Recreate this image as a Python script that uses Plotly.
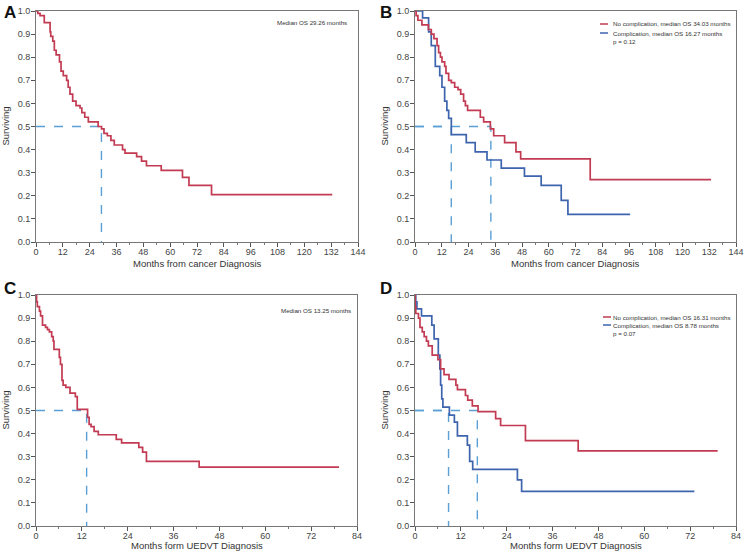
import plotly.graph_objects as go

# ---------------- data ----------------
# Panel A: overall survival from cancer diagnosis
a_t = [0, 0.8, 1.8, 3.7, 6.3, 6.6, 7.5, 8.2, 9.0, 10.5, 11.2, 12.2, 13.7, 14.4, 15.2, 16.4, 17.9, 19.7, 20.5, 21.8, 23.4, 27.8, 29.3, 30.4, 31.9, 33.5, 35.0, 38.7, 39.8, 40.5, 45.0, 47.2, 49.4, 56.0, 65.5, 68.4, 78.5, 132.5]
a_s = [1.0, 0.99, 0.98, 0.95, 0.91, 0.89, 0.87, 0.83, 0.81, 0.78, 0.74, 0.72, 0.70, 0.67, 0.64, 0.61, 0.59, 0.58, 0.56, 0.54, 0.52, 0.50, 0.49, 0.47, 0.46, 0.44, 0.42, 0.40, 0.385, 0.385, 0.37, 0.35, 0.33, 0.31, 0.28, 0.245, 0.205, 0.205]
a_median = 29.26

# Panel B: by complication, from cancer diagnosis
b_no_t = [0, 0.5, 1.3, 3.1, 6.0, 7.3, 8.5, 9.9, 10.6, 11.4, 12.1, 13.3, 13.9, 15.1, 16.3, 17.8, 19.3, 20.5, 21.8, 22.6, 23.6, 29.3, 30.8, 33.8, 35.3, 40.2, 45.3, 47.4, 78.6, 132.8]
b_no_s = [1.0, 0.98, 0.96, 0.94, 0.92, 0.90, 0.88, 0.85, 0.82, 0.80, 0.78, 0.76, 0.73, 0.70, 0.69, 0.67, 0.66, 0.64, 0.61, 0.59, 0.57, 0.54, 0.52, 0.49, 0.46, 0.43, 0.39, 0.36, 0.27, 0.27]
b_co_t = [0, 3.4, 6.1, 7.3, 9.1, 11.1, 12.1, 13.3, 14.3, 15.1, 16.3, 23.0, 27.0, 32.3, 38.7, 49.1, 56.6, 65.6, 68.6, 96.5]
b_co_s = [1.0, 0.97, 0.91, 0.85, 0.76, 0.72, 0.67, 0.61, 0.57, 0.535, 0.465, 0.43, 0.39, 0.355, 0.32, 0.285, 0.245, 0.18, 0.12, 0.12]
b_medians = [16.27, 34.03]

# Panel C: overall survival from UEDVT diagnosis
c_t = [0, 0.15, 0.35, 0.9, 1.2, 1.7, 2.5, 3.0, 3.5, 4.1, 4.5, 4.7, 6.1, 6.4, 6.8, 7.1, 7.8, 8.9, 10.3, 10.8, 13.5, 13.9, 14.4, 15.2, 16.3, 21.0, 22.4, 26.9, 27.9, 28.9, 42.7, 79.3]
c_s = [1.0, 0.97, 0.95, 0.93, 0.91, 0.87, 0.86, 0.85, 0.84, 0.82, 0.80, 0.765, 0.73, 0.70, 0.63, 0.61, 0.60, 0.575, 0.56, 0.505, 0.47, 0.44, 0.43, 0.41, 0.395, 0.375, 0.36, 0.34, 0.32, 0.28, 0.255, 0.255]
c_median = 13.25

# Panel D: by complication, from UEDVT diagnosis
d_no_t = [0, 0.05, 0.2, 0.9, 1.3, 1.9, 2.4, 3.0, 3.5, 4.5, 6.0, 6.7, 7.6, 8.9, 10.7, 11.1, 13.2, 13.8, 15.0, 16.5, 21.1, 22.4, 28.9, 42.7, 79.2]
d_no_s = [1.0, 0.95, 0.92, 0.90, 0.86, 0.84, 0.82, 0.80, 0.78, 0.74, 0.72, 0.68, 0.655, 0.635, 0.61, 0.59, 0.565, 0.545, 0.52, 0.495, 0.465, 0.435, 0.37, 0.325, 0.325]
d_co_t = [0, 0.2, 0.5, 1.7, 4.4, 5.0, 6.1, 6.5, 6.7, 7.0, 7.3, 9.0, 10.3, 11.1, 13.7, 14.3, 15.1, 26.8, 27.9, 73.1]
d_co_s = [1.0, 0.97, 0.94, 0.91, 0.87, 0.81, 0.74, 0.68, 0.61, 0.55, 0.515, 0.48, 0.45, 0.39, 0.35, 0.28, 0.245, 0.20, 0.15, 0.15]
d_medians = [8.78, 16.31]

x_ticks_ab = list(range(0, 145, 12))
x_ticks_cd = list(range(0, 85, 12))
y_ticks = [i / 10 for i in range(11)]

RED = "#c23b52"
BLUE = "#3d64ad"
DASH = "#5a9fd6"
FONT = "Liberation Sans, Arial, sans-serif"
SMALL = "Liberation Sans, Arial, sans-serif"

fig = go.Figure()

def km(t, s, color, ax):
    fig.add_trace(go.Scatter(x=t, y=s, mode="lines", line=dict(color=color, width=1.7, shape="hv"),
                             xaxis="x" + ax, yaxis="y" + ax, showlegend=False, hoverinfo="skip"))

def median(m, ax):
    fig.add_trace(go.Scatter(x=[0, m, m], y=[0.5, 0.5, 0], mode="lines",
                             line=dict(color=DASH, width=1.4, dash="dash"),
                             xaxis="x" + ax, yaxis="y" + ax, showlegend=False, hoverinfo="skip"))

# A
median(a_median, "")
km(a_t, a_s, RED, "")
# B
for m in b_medians:
    median(m, "2")
km(b_co_t, b_co_s, BLUE, "2")
km(b_no_t, b_no_s, RED, "2")
# C
median(c_median, "3")
km(c_t, c_s, RED, "3")
# D
for m in d_medians:
    median(m, "4")
km(d_co_t, d_co_s, BLUE, "4")
km(d_no_t, d_no_s, RED, "4")

W, H = 744, 553
def px_x(p):
    return p / W
def px_y(p):
    return 1 - p / H

dom_x = {"": (36, 358), "2": (415, 736), "3": (36, 357), "4": (415, 736)}
dom_y = {"": (11, 242), "2": (11, 242), "3": (295, 526), "4": (295, 526)}
titles = {"": "Months from cancer Diagnosis", "2": "Months from cancer Diagnosis",
          "3": "Months form UEDVT Diagnosis", "4": "Months form UEDVT Diagnosis"}
title_off = {"": 21, "2": 21, "3": 19, "4": 19}

layout = dict(width=W, height=H, margin=dict(l=0, r=0, t=0, b=0),
              plot_bgcolor="white", paper_bgcolor="white",
              font=dict(family=FONT, size=9, color="#333"))
ann = []
for ax in ["", "2", "3", "4"]:
    ticks = x_ticks_ab if ax in ("", "2") else x_ticks_cd
    xa = dict(domain=[px_x(dom_x[ax][0]), px_x(dom_x[ax][1])], range=[0, ticks[-1]],
              tickvals=ticks, ticks="outside", ticklen=4, tickcolor="#555",
              showline=True, linecolor="#777", linewidth=1, mirror=True, showgrid=False, zeroline=False,
              minor=dict(dtick=6, ticks="outside", ticklen=2, tickcolor="#777"),
              tickfont=dict(size=9, color="#444"), automargin=False, ticklabelstandoff=-3,
              anchor="y" + ax)
    ya = dict(domain=[px_y(dom_y[ax][1]), px_y(dom_y[ax][0])], range=[0, 1],
              tickvals=y_ticks, tickformat=".1f", ticks="outside", ticklen=4, tickcolor="#555",
              showline=True, linecolor="#777", linewidth=1, mirror=True, showgrid=False, zeroline=False,
              tickfont=dict(size=9, color="#444"), automargin=False, ticklabelstandoff=-1,
              anchor="x" + ax)
    layout["xaxis" + ax] = xa
    layout["yaxis" + ax] = ya
    # axis titles
    xc = (dom_x[ax][0] + dom_x[ax][1]) / 2
    ann.append(dict(text=titles[ax], x=px_x(xc), y=px_y(dom_y[ax][1] + title_off[ax]), xref="paper", yref="paper",
                    xanchor="center", yanchor="middle", showarrow=False, font=dict(size=9.5, color="#333")))
    yc = (dom_y[ax][0] + dom_y[ax][1]) / 2
    ann.append(dict(text="Surviving", x=px_x(dom_x[ax][0] - 31), y=px_y(yc), xref="paper", yref="paper",
                    xanchor="center", yanchor="middle", textangle=-90, showarrow=False,
                    font=dict(size=9.5, color="#333")))

fig.update_layout(**layout)

# Panel letters
for letter, x, y in [("A", 2, 12), ("B", 378, 12), ("C", 2, 288), ("D", 378, 288)]:
    ann.append(dict(text="<b>" + letter + "</b>", x=px_x(x), y=px_y(y), xref="paper", yref="paper",
                    xanchor="left", yanchor="middle", showarrow=False, font=dict(size=17, color="#111")))
# Median text for A and C
ann.append(dict(text="Median OS 29.26 months", x=px_x(275), y=px_y(23), xref="paper", yref="paper",
                xanchor="left", yanchor="middle", showarrow=False, font=dict(size=6.2, family=SMALL, color="#333")))
ann.append(dict(text="Median OS 13.25 months", x=px_x(279), y=px_y(310), xref="paper", yref="paper",
                xanchor="left", yanchor="middle", showarrow=False, font=dict(size=6.2, family=SMALL, color="#333")))

shapes = []
def legend(x_line, x_text, ys, texts):
    for i, (yy, tx) in enumerate(zip(ys, texts)):
        if i < 2:
            shapes.append(dict(type="line", xref="paper", yref="paper", x0=px_x(x_line), x1=px_x(x_line + 8),
                               y0=px_y(yy), y1=px_y(yy), line=dict(color=[RED, BLUE][i], width=1.5)))
        ann.append(dict(text=tx, x=px_x(x_text), y=px_y(yy), xref="paper", yref="paper",
                        xanchor="left", yanchor="middle", showarrow=False,
                        font=dict(size=6.2, family=SMALL, color="#333")))

legend(600, 611, [24, 33, 42], ["No complication, median OS 34.03 months",
                                 "Complication, median OS 16.27 months", "p = 0.12"])
legend(603, 611, [317, 325, 333], ["No complication, median OS 16.31 months",
                                    "Complication, median OS 8.78 months", "p = 0.07"])

fig.update_layout(annotations=ann, shapes=shapes)
fig.write_html("out.html", config={"displayModeBar": False},
               post_script="document.body.style.margin='0px';document.body.style.padding='0px';")
